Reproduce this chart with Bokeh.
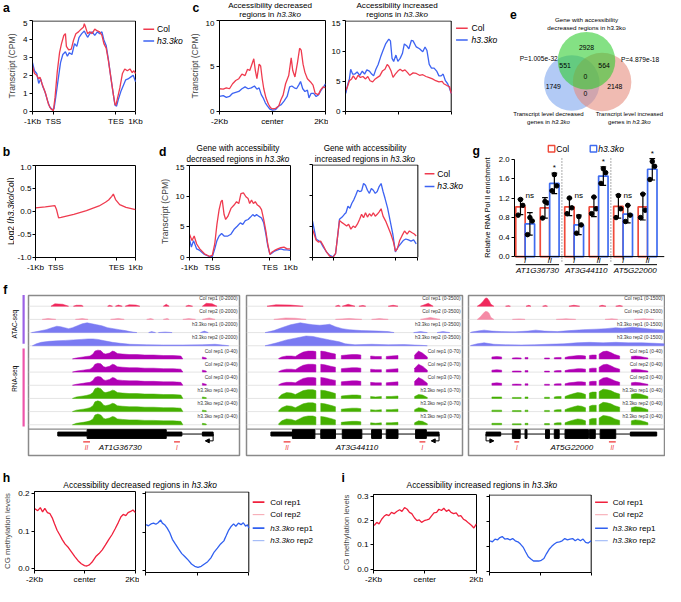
import math
from bokeh.plotting import figure
from bokeh.models import Range1d, FixedTicker, Arrow, NormalHead, NumeralTickFormatter
from bokeh.core.properties import value
from bokeh.layouts import row, column
from bokeh.embed import file_html
from bokeh.resources import INLINE

# ======================= DATA =======================
# a: metagene transcript level (CPM); x = profile bins
a_ticks = [0, 64, 256, 316]
a_ticklabels = ["-1Kb", "TSS", "TES", "1Kb"]
a_col_x = [0, 6, 13, 19, 23, 29, 36, 41, 49, 56, 64, 69, 76, 83, 89, 96, 101, 104, 111, 119, 126, 133, 141, 149, 156, 159, 163, 169, 176, 183, 191, 199, 206, 213, 219, 226, 233, 241, 248, 253, 256, 261, 268, 276, 283, 291, 299, 306, 311, 316]
a_col_y = [2.5, 2.1, 2.0, 1.8, 1.9, 1.55, 1.2, 0.95, 0.4, 0.15, 0.05, 0.75, 2.2, 3.25, 3.75, 4.2, 4.3, 3.6, 3.4, 3.45, 3.95, 4.3, 4.4, 4.55, 4.65, 4.85, 4.65, 4.3, 4.4, 4.3, 4.55, 4.45, 4.4, 4.2, 3.75, 3.5, 2.8, 1.8, 0.95, 0.4, 0.35, 0.75, 1.3, 2.1, 2.35, 2.25, 2.35, 2.15, 2.25, 2.1]
a_ko_x = [0, 6, 13, 19, 25, 31, 38, 46, 53, 61, 66, 71, 79, 86, 93, 101, 107, 113, 121, 129, 136, 143, 151, 159, 163, 169, 176, 183, 191, 199, 206, 213, 219, 226, 233, 241, 248, 253, 258, 263, 271, 279, 286, 293, 301, 309, 316]
a_ko_y = [2.7, 2.25, 2.1, 1.55, 1.8, 1.4, 1.1, 0.6, 0.25, 0.1, 0.15, 0.75, 1.8, 2.7, 3.15, 3.3, 3.05, 3.25, 3.15, 3.75, 3.6, 4.1, 4.3, 4.45, 4.3, 4.1, 4.3, 4.4, 4.2, 4.4, 4.3, 4.4, 3.95, 3.65, 2.85, 1.8, 0.95, 0.35, 0.3, 0.65, 1.1, 1.45, 1.75, 1.8, 1.9, 2.0, 1.65]

# b: log2 ratio profile
b_x = [0, 31, 61, 66, 73, 81, 121, 161, 201, 221, 231, 241, 246, 253, 266, 286, 316]
b_y = [0.08, 0.10, 0.13, 0.05, -0.14, -0.13, -0.06, 0.02, 0.12, 0.20, 0.25, 0.33, 0.38, 0.26, 0.15, 0.09, 0.04]

# c: transcript around accessibility-changed regions
c_ticklabels = ["-2Kb", "center", "2Kb"]
c1_col_x = [0, 12, 22, 32, 42, 52, 62, 72, 82, 90, 97, 104, 110, 115, 120, 127, 132, 137, 142, 149, 157, 164, 170, 180, 190, 197, 204, 212, 222, 230, 235, 242, 250, 257, 262, 268, 274, 282, 292, 300, 307, 317, 324, 332, 340]
c1_col_y = [2.5, 2.45, 2.6, 2.5, 3.05, 3.4, 3.6, 4.1, 3.95, 4.65, 4.5, 5.2, 5.8, 4.5, 3.6, 5.2, 5.0, 3.6, 2.5, 1.5, 0.8, 0.4, 0.3, 0.35, 0.6, 1.3, 1.8, 3.05, 3.95, 5.9, 4.5, 3.8, 5.35, 6.95, 6.75, 5.2, 4.3, 3.6, 3.25, 2.9, 2.0, 1.85, 2.35, 2.7, 2.6]
c1_ko_x = [0, 12, 22, 32, 42, 52, 62, 72, 82, 92, 102, 112, 120, 127, 134, 140, 147, 154, 162, 170, 180, 190, 198, 207, 217, 225, 232, 240, 247, 254, 260, 267, 274, 282, 287, 294, 302, 310, 318, 326, 334, 340]
c1_ko_y = [1.65, 1.75, 1.55, 1.65, 2.0, 2.1, 2.2, 2.5, 2.7, 2.5, 2.6, 2.8, 2.45, 2.6, 1.85, 1.5, 0.95, 0.6, 0.25, 0.15, 0.2, 0.6, 0.75, 1.15, 1.65, 2.7, 2.8, 2.6, 2.5, 2.9, 3.3, 2.5, 2.2, 2.35, 1.5, 2.0, 2.0, 1.65, 1.85, 2.35, 2.7, 3.05]
c2_ko_x = [1, 6, 12, 16, 22, 29, 36, 44, 52, 59, 66, 74, 81, 87, 94, 101, 109, 116, 124, 134, 139, 144, 149, 156, 162, 169, 176, 182, 189, 196, 204, 209, 219, 229, 239, 246, 252, 259, 266, 274, 282, 289, 296, 302, 309, 316, 322, 327]
c2_ko_y = [3.0, 4.3, 5.4, 7.0, 6.2, 6.2, 6.55, 6.0, 6.7, 6.2, 6.9, 6.7, 6.2, 5.9, 7.0, 7.8, 9.1, 10.1, 11.2, 12.0, 11.7, 8.8, 8.3, 9.35, 8.3, 8.8, 9.6, 11.2, 10.9, 10.4, 11.8, 11.7, 10.7, 10.4, 9.9, 10.7, 10.1, 7.8, 7.2, 7.2, 6.7, 5.9, 5.9, 6.2, 5.1, 4.6, 3.8, 3.0]
c2_col_x = [1, 6, 12, 19, 24, 32, 39, 46, 54, 62, 69, 76, 84, 92, 99, 106, 114, 122, 129, 134, 141, 147, 154, 162, 169, 176, 184, 192, 199, 209, 219, 229, 239, 249, 259, 269, 279, 289, 299, 304, 314, 322, 327]
c2_col_y = [3.5, 4.1, 5.1, 5.4, 5.9, 5.3, 6.0, 5.65, 5.8, 5.4, 5.8, 5.1, 4.9, 5.4, 5.65, 5.9, 6.7, 7.0, 7.8, 7.5, 6.7, 5.65, 6.2, 6.7, 7.0, 6.7, 6.9, 6.45, 6.0, 6.4, 6.3, 6.0, 6.1, 5.8, 5.6, 5.4, 5.1, 4.9, 5.0, 4.6, 4.3, 4.1, 3.0]

# d: transcript of genes with accessibility-changed regions
d1_col_x = [0, 8, 15, 23, 33, 48, 63, 73, 81, 88, 95, 101, 105, 111, 116, 123, 133, 143, 151, 158, 165, 173, 181, 188, 193, 199, 205, 211, 218, 225, 231, 238, 245, 251, 258, 265, 273, 283, 293, 303, 313, 323]
d1_col_y = [3.8, 2.75, 3.5, 2.2, 1.4, 0.6, 0.2, 0.35, 2.2, 5.4, 7.8, 9.1, 9.35, 7.0, 6.2, 6.7, 8.0, 8.55, 9.1, 8.8, 10.4, 10.55, 9.9, 9.6, 8.8, 9.35, 8.8, 9.1, 8.55, 8.3, 7.8, 6.2, 4.3, 2.2, 0.5, 0.9, 1.15, 1.4, 1.6, 1.7, 1.4, 1.4]
d1_ko_x = [0, 6, 13, 23, 33, 48, 63, 73, 81, 88, 95, 103, 111, 123, 133, 143, 153, 163, 171, 179, 188, 195, 203, 209, 215, 223, 231, 238, 245, 251, 258, 265, 273, 283, 293, 303, 313, 323]
d1_ko_y = [3.0, 1.7, 2.75, 1.4, 1.15, 0.5, 0.2, 0.1, 1.4, 2.75, 3.5, 3.9, 3.5, 3.5, 3.8, 4.6, 5.1, 5.65, 5.4, 6.0, 6.2, 6.55, 7.0, 6.7, 7.0, 6.7, 6.45, 5.65, 3.8, 1.95, 0.5, 0.75, 1.05, 1.25, 1.4, 1.25, 1.25, 1.15]
d2_ko_x = [0, 5, 11, 18, 25, 33, 43, 53, 63, 71, 78, 83, 91, 98, 103, 109, 115, 121, 127, 133, 139, 145, 151, 157, 163, 169, 175, 181, 187, 193, 199, 205, 211, 217, 223, 231, 239, 247, 255, 263, 271, 279, 287, 295, 303, 311, 319]
d2_ko_y = [5.9, 4.6, 3.0, 2.75, 2.5, 1.7, 0.9, 0.35, 0.1, 0.65, 3.8, 6.2, 6.55, 7.0, 7.25, 8.3, 8.0, 8.8, 9.35, 10.1, 10.9, 10.7, 10.8, 12.0, 11.7, 10.9, 10.4, 11.2, 10.9, 10.4, 10.7, 11.5, 12.0, 10.7, 9.6, 8.0, 5.9, 3.8, 0.9, 1.7, 2.2, 2.75, 3.0, 2.85, 2.65, 2.85, 2.2]
d2_col_x = [0, 5, 11, 18, 25, 33, 43, 53, 63, 71, 78, 83, 91, 98, 105, 111, 118, 125, 131, 138, 145, 151, 157, 163, 169, 175, 181, 187, 193, 199, 205, 211, 217, 225, 233, 241, 249, 255, 261, 268, 275, 283, 291, 298, 305, 313, 319]
d2_col_y = [4.6, 3.8, 2.85, 2.5, 2.65, 1.95, 0.9, 0.2, 0.0, 0.65, 3.8, 6.0, 5.65, 5.4, 5.1, 5.4, 4.6, 5.1, 4.85, 5.4, 6.2, 7.0, 6.45, 7.25, 6.55, 7.1, 6.7, 7.25, 6.7, 7.0, 7.4, 7.9, 6.7, 5.9, 4.85, 3.8, 2.5, 1.05, 1.4, 2.75, 3.5, 4.3, 3.8, 4.3, 4.05, 3.8, 3.5]

# e: Venn diagram
venn_titles = ["Gene with accessibility", "decreased regions in h3.3ko"]
venn_counts = [2928, 551, 564, 0, 1749, 2148, 0]
venn_pvalues = ["P=1.005e-32", "P=4.879e-18"]

# g: RNA Pol II ChIP-qPCR
g_genes = ["AT1G36730", "AT3G44110", "AT5G22000"]
g_primers = ["I", "II"]
g_col_mean = [1.02, 1.00, 1.02, 1.02, 1.03, 1.02]
g_col_sd = [0.16, 0.21, 0.18, 0.20, 0.24, 0.27]
g_ko_mean = [0.67, 1.50, 0.65, 1.65, 0.87, 1.79]
g_ko_sd = [0.23, 0.21, 0.20, 0.19, 0.18, 0.22]
g_col_pts = [[1.17, 1.05, 0.85], [1.13, 1.10, 0.79], [1.20, 1.00, 0.88], [1.22, 0.98, 0.88], [1.25, 0.98, 0.80], [1.28, 0.95, 0.80]]
g_ko_pts = [[0.80, 0.73, 0.45], [1.68, 1.45, 1.35], [0.82, 0.65, 0.48], [1.80, 1.72, 1.50], [1.05, 0.85, 0.72], [1.95, 1.85, 1.58]]
g_signif = ["ns", "*", "ns", "*", "ns", "*"]

# f: genome browser tracks (segments of (positions, signal heights))
f_atac_scale = ["0-2000", "0-3500", "0-1500"]
f_rna_scale = ["0-40", "0-70", "0-40"]
f1_atac_col1 = [([23, 27, 35, 41], [0, 2.5, 2, 0]), ([46, 49, 54, 56], [0, 1, 1, 0]), ([81, 83, 86], [0, 1, 0]), ([89, 92, 96], [0, 1.2, 0]), ([99, 103, 110, 114], [0, 1.5, 1.2, 0]), ([138, 141, 144], [0, 2, 0]), ([161, 164, 168], [0, 1, 0]), ([178, 182, 188, 193], [0, 3, 2.5, 0])]
f1_atac_col2 = [([14, 20, 28], [0, 1, 0]), ([48, 55, 61], [0, 0.8, 0]), ([84, 92, 98], [0, 1, 0]), ([121, 125, 128], [0, 0.8, 0]), ([138, 142, 144], [0, 1, 0]), ([158, 164, 171], [0, 0.8, 0]), ([178, 185, 191], [0, 1.5, 0])]
f1_atac_ko1 = [([3, 11, 18, 24, 29, 33, 37, 41, 45, 50, 55, 60, 65, 70, 75, 81, 87, 93, 99, 104, 107, 111], [0, 1.5, 3, 5, 6.5, 6, 5, 4, 5, 7, 9, 10, 9, 8, 7, 5, 4, 3, 2, 1, 0.5, 0]), ([123, 126, 130], [0, 1, 0]), ([133, 140, 147], [0, 0.6, 0]), ([176, 180, 184], [0, 1.5, 0])]
f1_atac_ko2 = [([4, 8, 13, 21, 29, 38, 46, 54, 61, 66, 71, 78, 86, 94, 104, 121, 138, 158, 178, 191, 201, 205], [0, 2, 3.5, 4.5, 5, 5.5, 6, 6.5, 7, 7, 6.5, 5, 3.5, 2.5, 1.5, 1, 0.8, 0.8, 1, 1.5, 0.5, 0])]
f1_rna_col = [([45, 49, 56, 59, 63, 66, 68, 71, 74, 77, 79, 83, 86, 88, 91, 96, 103, 111, 119, 128, 138, 148, 156, 158], [0, 1, 2, 2.5, 3, 5, 8, 9, 8.5, 5.5, 5, 6, 8, 7.5, 5.5, 5, 4.5, 4.5, 4, 4, 3.5, 3.5, 3, 0]), ([178, 180, 182], [2, 1.5, 1])]
f1_rna_ko = [([45, 49, 56, 59, 63, 66, 68, 71, 74, 77, 79, 83, 86, 88, 91, 96, 103, 111, 119, 128, 138, 148, 156, 158], [0, 1.5, 2.5, 3, 4, 6, 10, 11, 10, 6.5, 6, 7, 8.5, 8, 6, 5.5, 5, 5, 4.5, 4.5, 4, 4, 3.5, 0]), ([178, 180, 182], [1.5, 1.2, 0.8])]
f2_atac_col1 = [([21, 30, 45, 58], [0, 1.5, 1.2, 0]), ([91, 94, 96], [0, 1, 0]), ([98, 104, 111], [0, 2, 0]), ([115, 119, 122], [0, 0.8, 0]), ([145, 150, 155], [0, 1, 0]), ([178, 186, 191], [0, 3, 0])]
f2_atac_col2 = [([28, 40, 50, 61], [0, 1.5, 1.2, 0]), ([91, 105, 118], [0, 1, 0]), ([128, 136, 145], [0, 0.8, 0]), ([178, 188, 198], [0, 2, 0])]
f2_atac_ko1 = [([19, 28, 36, 45, 55, 61, 68, 75, 81, 85, 91, 98, 105, 118, 135, 145, 151], [0, 2, 5, 8, 10, 9, 8, 7.5, 8, 8.5, 6, 4, 3, 2, 1.5, 1, 0]), ([171, 178, 185], [0, 1, 0]), ([195, 201, 208], [0, 1, 0])]
f2_atac_ko2 = [([19, 31, 41, 51, 61, 68, 75, 85, 95, 101, 111, 128, 145, 161, 178, 185], [0, 3, 6, 8, 10, 9.5, 8, 6, 4, 2, 1, 1.5, 1, 1.2, 0.5, 0])]
f2_rna_col = [([33, 36, 41, 46, 50, 54, 58, 63, 68, 71], [0.5, 2, 3, 3, 2.5, 5, 7, 8, 8, 7.5]), ([76, 80, 86, 91], [8, 7.5, 6, 5]), ([97, 102, 108, 113, 117], [3.5, 4, 4.5, 4.5, 4]), ([127, 132, 138], [3, 2.5, 2.5]), ([143, 148, 155], [2.5, 3, 3.5]), ([172, 176, 180, 185], [4, 8, 6, 2])]
f2_rna_ko = [([33, 36, 41, 46, 50, 54, 58, 63, 68, 71], [1, 4, 6, 5.5, 4, 6, 8, 9, 9, 8]), ([76, 80, 86, 91], [8.5, 8, 6.5, 5]), ([97, 102, 108, 113, 117], [2.5, 3, 3.5, 3.5, 3]), ([127, 132, 138], [2, 1.5, 2]), ([143, 148, 155], [2, 2, 2.5]), ([172, 176, 180, 185], [2, 4, 3.5, 1])]
f3_atac_col1 = [([9, 12, 15, 17, 19, 21, 23, 26], [0, 2, 5, 8, 8.5, 6, 2, 0]), ([38, 41, 43], [0, 0.6, 0]), ([59, 62, 64], [0, 1, 0]), ([76, 79, 81], [0, 0.8, 0]), ([103, 108, 114], [0, 1, 0]), ([134, 137, 141], [0, 1, 0]), ([151, 155, 158], [0, 0.8, 0])]
f3_atac_col2 = [([9, 12, 15, 17, 19, 21, 23, 26], [0, 2.5, 6, 8, 8, 6.5, 2, 0]), ([45, 52, 58], [0, 0.5, 0]), ([90, 100, 110], [0, 0.6, 0]), ([140, 147, 153], [0, 0.6, 0]), ([170, 180, 190], [0, 0.6, 0])]
f3_atac_ko1 = [([2, 3, 9, 16, 24, 34, 48, 61, 69, 78, 91, 104, 118, 131, 141, 151, 158, 168, 178, 188, 198, 201], [0, 0.5, 1.5, 2.5, 1.5, 1, 0.8, 1.5, 2.5, 1.5, 1, 2, 3, 3.5, 4, 5, 4.5, 5.5, 4.5, 3.5, 3, 2.5])]
f3_atac_ko2 = [([2, 3, 9, 16, 26, 38, 54, 68, 81, 98, 111, 124, 138, 151, 164, 178, 191, 201], [0, 0.5, 2, 3, 1.5, 1, 0.8, 1, 1.5, 2, 3, 3.5, 3, 3.5, 3, 3, 2.5, 2])]
f3_rna_col = [([24, 29, 34], [2, 2.5, 2]), ([45, 49, 54], [1, 1.2, 1]), ([58, 61], [1.5, 1.5]), ([78, 83], [1, 1]), ([88, 91, 95], [1.2, 1.5, 1.5]), ([99, 103, 108, 112, 116, 120], [1.5, 2.5, 3, 3.5, 3.5, 3]), ([124, 127, 131], [3.5, 4, 4]), ([134, 138, 142, 146, 150, 155], [5, 7.5, 8, 6.5, 4.5, 3]), ([167, 171, 176, 181, 184], [2.5, 3, 2.5, 1.5, 1])]
f3_rna_ko = [([24, 29, 34], [1.5, 1.5, 1.5]), ([45, 49, 54], [1, 1, 1]), ([58, 61], [1.5, 1.5]), ([78, 83], [1.2, 1.2]), ([88, 91, 95], [1.5, 2, 2]), ([99, 103, 108, 112, 116, 120], [2, 3.5, 5, 6, 5.5, 4]), ([124, 127, 131], [5.5, 6.5, 6.5]), ([134, 138, 142, 146, 150, 155], [7, 9.5, 9, 8, 6, 4.5]), ([167, 171, 176, 181, 184], [4, 5, 4.5, 3, 2])]
f1_gene = dict(line=(30, 189), thin=[(30, 60), (141, 157), (178, 189)], thick=[(60, 141)], tss=189, strand=-1, primers=[(56, 63, "II"), (149, 155, "I")], name="AT1G36730", name_x=94)
f2_gene = dict(line=(25, 197), thin=[(25, 47), (184, 197)], thick=[(47, 70), (76, 91), (98, 118), (128, 138), (143, 155), (173, 184)], tss=197, strand=-1, primers=[(38, 45, "II"), (177, 183, "I")], name="AT3G44110", name_x=113)
f3_gene = dict(line=(18, 193), thin=[(18, 33), (166, 193)], thick=[(45, 53), (58, 60), (79, 83), (88, 93), (99, 123), (124, 130), (135, 151)], tss=18, strand=1, primers=[(47, 52, "I"), (144, 151, "II")], name="AT5G22000", name_x=106)

# h / i: CG methylation profiles
h_ticklabels = ["-2Kb", "center", "2Kb"]
h_col_x = [0, 10, 18, 25, 32, 40, 48, 55, 62, 70, 78, 86, 95, 105, 115, 125, 135, 145, 155, 162, 170, 180, 190, 200, 210, 220, 230, 240, 250, 260, 268, 275, 283, 290, 298, 305, 313]
h_col_y = [0.160, 0.154, 0.162, 0.151, 0.160, 0.149, 0.146, 0.135, 0.119, 0.102, 0.090, 0.077, 0.065, 0.056, 0.044, 0.032, 0.021, 0.013, 0.008, 0.007, 0.010, 0.019, 0.032, 0.040, 0.050, 0.063, 0.077, 0.090, 0.106, 0.123, 0.138, 0.144, 0.141, 0.149, 0.152, 0.156, 0.149]
h_ko_x = [2, 9, 17, 25, 32, 39, 47, 52, 59, 67, 75, 83, 92, 102, 112, 122, 132, 142, 152, 162, 172, 182, 192, 202, 212, 222, 232, 242, 249, 257, 265, 272, 279, 287, 295, 302, 309, 315, 319]
h_ko_y = [0.119, 0.116, 0.121, 0.123, 0.120, 0.124, 0.131, 0.123, 0.119, 0.110, 0.098, 0.081, 0.069, 0.056, 0.044, 0.036, 0.027, 0.017, 0.011, 0.008, 0.011, 0.017, 0.023, 0.033, 0.048, 0.058, 0.069, 0.077, 0.090, 0.105, 0.115, 0.121, 0.115, 0.123, 0.119, 0.124, 0.115, 0.119, 0.110]
i_col_x = [2, 10, 17, 25, 33, 40, 47, 55, 63, 71, 80, 87, 95, 103, 110, 117, 125, 133, 140, 147, 155, 163, 170, 177, 185, 193, 200, 208, 215, 223, 230, 237, 245, 253, 260, 267, 275, 283, 291, 300, 307, 315]
i_col_y = [0.180, 0.193, 0.187, 0.206, 0.219, 0.225, 0.221, 0.234, 0.229, 0.238, 0.245, 0.238, 0.254, 0.247, 0.234, 0.229, 0.212, 0.200, 0.203, 0.193, 0.200, 0.203, 0.206, 0.219, 0.232, 0.234, 0.247, 0.242, 0.251, 0.238, 0.245, 0.234, 0.229, 0.232, 0.219, 0.221, 0.206, 0.200, 0.190, 0.180, 0.170, 0.187]
i_ko_x = [2, 9, 17, 25, 32, 39, 47, 55, 63, 71, 79, 87, 95, 103, 111, 119, 127, 135, 143, 151, 159, 167, 175, 183, 191, 199, 207, 215, 223, 231, 239, 247, 255, 263, 271, 279, 287, 295, 303, 312]
i_ko_y = [0.122, 0.118, 0.129, 0.126, 0.135, 0.139, 0.129, 0.131, 0.126, 0.131, 0.122, 0.118, 0.109, 0.097, 0.077, 0.058, 0.049, 0.041, 0.041, 0.041, 0.044, 0.051, 0.071, 0.088, 0.100, 0.109, 0.116, 0.118, 0.122, 0.131, 0.126, 0.129, 0.131, 0.122, 0.129, 0.122, 0.129, 0.116, 0.113, 0.122]

# ======================= STYLE / LAYOUT HELPERS =======================
SX = 665.0 / 681.0
SY = 586.0 / 602.0
SF = 0.975
FONT = "Liberation Sans"
RED = "#ef3b4f"
BLUE = "#3d63f2"
GRED = "#ef4a3a"
GBLUE = "#3f6cf0"

CW = {' ': 278, '(': 333, ')': 333, ',': 278, '-': 333, '.': 278, '/': 278, '=': 584}
for ch in "0123456789":
    CW[ch] = 556
CW.update({'A': 667, 'B': 667, 'C': 722, 'D': 722, 'E': 667, 'F': 611, 'G': 778, 'H': 722, 'I': 278, 'J': 500, 'K': 667, 'L': 556, 'M': 833, 'N': 722, 'O': 778, 'P': 667, 'Q': 778, 'R': 722, 'S': 667, 'T': 611, 'U': 722, 'V': 667, 'W': 944, 'X': 667, 'Y': 667, 'Z': 611,
           'a': 556, 'b': 556, 'c': 500, 'd': 556, 'e': 556, 'f': 278, 'g': 556, 'h': 556, 'i': 222, 'j': 222, 'k': 500, 'l': 222, 'm': 833, 'n': 556, 'o': 556, 'p': 556, 'q': 556, 'r': 333, 's': 500, 't': 278, 'u': 556, 'v': 500, 'w': 722, 'x': 500, 'y': 500, 'z': 500})


def tw(s, size):
    return sum(CW.get(ch, 556) for ch in s) * size / 1000.0


def fs(size):
    return f"{size * SF:.2f}px"


class Panel:
    """fig: figure extent, frame: plot frame, box: reference box whose edges map to data (in reference px)."""
    def __init__(self, fig, frame, box=None, data=None, xaxis=False, yaxis=False, outline=None):
        x0, x1, y0, y1 = fig
        fl, fr, ft, fb = frame
        bl, br, bt, bb = box if box else frame
        dx0, dx1, dy0, dy1 = data if data else (bl, br, bb, bt)
        self.kx = (dx1 - dx0) / (br - bl)
        self.ky = (dy1 - dy0) / (bb - bt)
        self.bl, self.bb, self.dx0, self.dy0, self.dx1, self.dy1 = bl, bb, dx0, dy0, dx1, dy1
        xr = Range1d(dx0 + (fl - bl) * self.kx, dx0 + (fr - bl) * self.kx)
        yr = Range1d(dy0 - (fb - bb) * self.ky, dy0 + (bb - ft) * self.ky)
        kw = {}
        if not xaxis:
            kw["x_axis_type"] = None
        if not yaxis:
            kw["y_axis_type"] = None
        p = figure(width=round(x1 * SX) - round(x0 * SX), height=round(y1 * SY) - round(y0 * SY),
                   x_range=xr, y_range=yr, output_backend="svg", toolbar_location=None, title=None,
                   min_border_left=round(fl * SX) - round(x0 * SX), min_border_right=round(x1 * SX) - round(fr * SX),
                   min_border_top=round(ft * SY) - round(y0 * SY), min_border_bottom=round(y1 * SY) - round(fb * SY), **kw)
        try:
            p.frame_align = False
        except Exception:
            pass
        for g in p.grid:
            g.visible = False
        p.outline_line_color = outline
        p.outline_line_width = 1
        self.p = p

    def d(self, rx, ry):
        return self.dx0 + (rx - self.bl) * self.kx, self.dy0 + (self.bb - ry) * self.ky


def T(P, rx, ry, s, size=8.5, align="center", style="normal", color="black", angle=0.0):
    x, y = P.d(rx, ry)
    P.p.text(x=[x], y=[y], text=[s], text_font=value(FONT), text_font_size=fs(size), text_font_style=style,
             text_align=align, text_baseline="middle", text_color=color, angle=angle)


def MT(P, rx, ry, parts, size, align="center", vertical=False):
    total = sum(tw(t, size) for t, _ in parts)
    if vertical:
        pos = ry + total / 2
    else:
        pos = rx - total / 2 if align == "center" else rx
    for t, st in parts:
        lead = len(t) - len(t.lstrip())
        trail = len(t) - len(t.rstrip())
        core = t.strip()
        if vertical:
            pos -= tw(" " * lead, size)
            T(P, rx, pos, core, size, align="left", style=st, angle=math.pi / 2)
            pos -= tw(core, size) + tw(" " * trail, size)
        else:
            pos += tw(" " * lead, size)
            T(P, pos, ry, core, size, align="left", style=st)
            pos += tw(core, size) + tw(" " * trail, size)


def L(P, rx0, rx1, ry, color, w=1.5):
    x0, y = P.d(rx0, ry)
    x1, _ = P.d(rx1, ry)
    P.p.segment(x0=[x0], y0=[y], x1=[x1], y1=[y], line_color=color, line_width=w)


def edges(P, rl, rr, rt, rb):
    xl, yt = P.d(rl, rt)
    xr, yb = P.d(rr, rb)
    P.p.segment(x0=[xl, xr], y0=[yt, yb], x1=[xr, xr], y1=[yt, yt], line_color="black", line_width=1)


def style_axis(ax, tick_size=8.3, label_size=8.8):
    ax.major_tick_out = 3
    ax.major_tick_in = 0
    ax.minor_tick_line_color = None
    ax.axis_line_color = "black"
    ax.major_tick_line_color = "black"
    ax.major_label_text_font = FONT
    ax.major_label_text_font_size = fs(tick_size)
    ax.major_label_text_color = "black"
    ax.major_label_standoff = 2
    ax.axis_label_text_font = FONT
    ax.axis_label_text_font_style = "normal"
    ax.axis_label_text_font_size = fs(label_size)
    ax.axis_label_standoff = 3


def hide_labels(ax):
    ax.major_label_text_font_size = "1px"
    ax.major_label_text_color = None
    ax.major_label_standoff = 0


def style(P, xt, xl, yt, yl=True, yfmt=None, ylabel=None, label_size=8.8, xbounds=False):
    xa, ya = P.p.xaxis[0], P.p.yaxis[0]
    style_axis(xa)
    style_axis(ya, label_size=label_size)
    xa.ticker = FixedTicker(ticks=xt)
    if xl:
        xa.major_label_overrides = {t: s for t, s in zip(xt, xl)}
    else:
        hide_labels(xa)
    ya.ticker = FixedTicker(ticks=yt)
    if not yl:
        hide_labels(ya)
    if yfmt:
        ya.formatter = NumeralTickFormatter(format=yfmt)
    if ylabel:
        ya.axis_label = ylabel
    if xbounds:
        xa.bounds = (P.dx0, P.dx1)


def letter(P, rx, ry, s):
    T(P, rx, ry, s, 12.5, style="bold")


def two_legend(P, x0, x1, xt, y1, y2):
    L(P, x0, x1, y1, RED)
    T(P, xt, y1, "Col", 8.8, align="left")
    L(P, x0, x1, y2, BLUE)
    T(P, xt, y2, "h3.3ko", 8.8, align="left", style="italic")


def rep_legend(P, x0, x1, xt, ys):
    cols = ["#f0203c", "#f6a3ae", "#3060f0", "#94b0f6"]
    widths = [1.6, 1.0, 1.6, 1.0]
    for y, c, w in zip(ys, cols, widths):
        L(P, x0, x1, y, c, w)
    T(P, xt, ys[0], "Col rep1", 8.3, align="left")
    T(P, xt, ys[1], "Col rep2", 8.3, align="left")
    MT(P, xt, ys[2], [("h3.3ko", "italic"), (" rep1", "normal")], 8.3, align="left")
    MT(P, xt, ys[3], [("h3.3ko", "italic"), (" rep2", "normal")], 8.3, align="left")


# ======================= ROW 1 =======================
T1 = Panel((0, 518, 0, 21), (0, 518, 0, 21))
letter(T1, 6, 8, "a")
letter(T1, 200, 8, "c")
T(T1, 276, 5.2, "Accessibility decreased", 8.3)
MT(T1, 276, 15, [("regions in ", "normal"), ("h3.3ko", "italic")], 8.3)
T(T1, 406, 5.2, "Accessibility increased", 8.3)
MT(T1, 406, 15, [("regions in ", "normal"), ("h3.3ko", "italic")], 8.3)

A = Panel((0, 190, 21, 137), (33, 190, 21, 114), (33, 138, 21.5, 114), (0, 316, 0, 5), xaxis=True, yaxis=True)
style(A, a_ticks, a_ticklabels, [0, 1, 2, 3, 4, 5], ylabel="Transcript (CPM)", xbounds=True)
A.p.yaxis[0].bounds = (0, 5)
edges(A, 33, 138, 21.5, 114)
A.p.line(a_ko_x, a_ko_y, color=BLUE, line_width=1.3)
A.p.line(a_col_x, a_col_y, color=RED, line_width=1.3)
two_legend(A, 146, 157, 160, 30, 42)

C1 = Panel((190, 336, 21, 137), (219, 333, 21, 114), None, (0, 340, 0, 10), xaxis=True, yaxis=True, outline="black")
style(C1, [0, 170, 340], c_ticklabels, [0, 5, 10], ylabel="Transcript (CPM)")
C1.p.line(c1_ko_x, c1_ko_y, color=BLUE, line_width=1.3)
C1.p.line(c1_col_x, c1_col_y, color=RED, line_width=1.3)

C2 = Panel((336, 518, 21, 137), (352, 518, 21, 114), (352, 461, 21.5, 114), (0, 327, 0, 15), xaxis=True, yaxis=True)
style(C2, [0, 163, 327], None, [0, 5, 10, 15], xbounds=True)
C2.p.yaxis[0].bounds = (0, 15)
edges(C2, 352, 461, 21.5, 114)
C2.p.line(c2_ko_x, c2_ko_y, color=BLUE, line_width=1.3)
C2.p.line(c2_col_x, c2_col_y, color=RED, line_width=1.3)
two_legend(C2, 466, 478, 482, 29, 41)

E = Panel((518, 681, 0, 137), (518, 681, 0, 137))
cx = [E.d(585, 0)[0], E.d(616, 0)[0], E.d(600, 0)[0]]
cy = [E.d(0, 85)[1], E.d(0, 84)[1], E.d(0, 62)[1]]
E.p.circle(x=cx, y=cy, radius=[28.5, 30, 29.5], fill_color=["#7ba3ee", "#e6897b", "#2bcb2b"], fill_alpha=0.58, line_color=None)
letter(E, 525, 14, "e")
T(E, 600, 20, venn_titles[0], 6.4)
T(E, 600, 28, venn_titles[1], 6.4)
venn_pos = [(600, 48), (578, 67), (618, 67), (599, 78), (566, 89), (629, 89), (599, 96)]
for (vx, vy), n in zip(venn_pos, venn_counts):
    T(E, vx, vy, str(n), 7)
T(E, 551, 60, venn_pvalues[0], 6.8)
T(E, 655, 61, venn_pvalues[1], 6.8)
T(E, 561, 117, "Transcript level decreased", 6.2)
MT(E, 561, 125, [("genes in ", "normal"), ("h3.3ko", "italic")], 6.2)
T(E, 644, 117, "Transcript level increased", 6.1)
MT(E, 644, 125, [("genes in ", "normal"), ("h3.3ko", "italic")], 6.2)

# ======================= ROW 2 =======================
T2 = Panel((0, 482, 137, 168), (0, 482, 137, 168))
letter(T2, 6, 155, "b")
letter(T2, 166, 155, "d")
T(T2, 243, 152, "Gene with accessibility", 8.4)
MT(T2, 243, 163, [("decreased regions in ", "normal"), ("h3.3ko", "italic")], 8.4)
T(T2, 373, 152, "Gene with accessibility", 8.4)
MT(T2, 373, 163, [("increased regions in ", "normal"), ("h3.3ko", "italic")], 8.4)

BL = Panel((0, 14, 168, 285), (0, 14, 168, 285))
MT(BL, 10, 216.5, [("Log2 (", "normal"), ("h3.3ko", "italic"), ("/Col)", "normal")], 8.8, vertical=True)

B = Panel((14, 160, 168, 285), (33, 138, 169, 264), None, (0, 316, -1, 1), xaxis=True, yaxis=True, outline="black")
style(B, a_ticks, a_ticklabels, [-1, -0.5, 0, 0.5, 1], yfmt="0.0")
B.p.yaxis[0].major_label_standoff = 1
B.p.line(b_x, b_y, color=RED, line_width=1.3)

D1 = Panel((160, 306, 168, 285), (189, 297, 169, 264), None, (0, 324, 0, 15), xaxis=True, yaxis=True, outline="black")
style(D1, [0, 73, 258, 324], a_ticklabels, [0, 5, 10, 15], ylabel="Transcript (CPM)")
D1.p.line(d1_ko_x, d1_ko_y, color=BLUE, line_width=1.3)
D1.p.line(d1_col_x, d1_col_y, color=RED, line_width=1.3)

D2 = Panel((306, 482, 168, 285), (319, 482, 168.5, 264), (319, 427, 169, 264), (0, 324, 0, 15), xaxis=True, yaxis=True)
style(D2, [0, 65, 255, 324], None, [0, 5, 10, 15], yl=False, xbounds=True)
D2.p.yaxis[0].bounds = (0, 15)
edges(D2, 319, 427, 169, 264)
D2.p.line(d2_ko_x, d2_ko_y, color=BLUE, line_width=1.3)
D2.p.line(d2_col_x, d2_col_y, color=RED, line_width=1.3)
two_legend(D2, 434, 444, 447, 178, 191)

GL = Panel((482, 506, 137, 285), (482, 506, 137, 285))
letter(GL, 487, 155, "g")
T(GL, 499, 213, "Relative RNA Pol II enrichment", 7.5, angle=math.pi / 2)

G = Panel((506, 681, 137, 285), (526, 680, 140, 282), (527.3, 672.3, 163, 262.7), (0, 15, 0, 2.0), yaxis=True)
gp = G.p
gya = gp.yaxis[0]
style_axis(gya, tick_size=8.0)
gya.bounds = (0, 2.0)
gya.ticker = FixedTicker(ticks=[0, 0.4, 0.8, 1.2, 1.6, 2.0])
gya.formatter = NumeralTickFormatter(format="0.0")
GEN_OFF, PR_OFF = 5.2, 2.6
cen_col, cen_ko, pair_c = [], [], []
for gi in range(len(g_genes)):
    for pi in range(len(g_primers)):
        base = gi * GEN_OFF + pi * PR_OFF
        cen_col.append(base + 0.5)
        cen_ko.append(base + 1.5)
        pair_c.append(base + 1.0)
for cs, m, sd, pts, col in ((cen_col, g_col_mean, g_col_sd, g_col_pts, GRED), (cen_ko, g_ko_mean, g_ko_sd, g_ko_pts, GBLUE)):
    gp.quad(left=[c - 0.5 for c in cs], right=[c + 0.5 for c in cs], bottom=0, top=m,
            fill_color="white", line_color=col, line_width=1.7)
    hi = [a + b for a, b in zip(m, sd)]
    lo = [a - b for a, b in zip(m, sd)]
    gp.segment(x0=cs, x1=cs, y0=lo, y1=hi, line_color="black", line_width=1.2)
    gp.segment(x0=[c - 0.3 for c in cs], x1=[c + 0.3 for c in cs], y0=hi, y1=hi, line_color="black", line_width=1.2)
    gp.segment(x0=[c - 0.3 for c in cs], x1=[c + 0.3 for c in cs], y0=lo, y1=lo, line_color="black", line_width=1.2)
    dx, dy = [], []
    for c, vals in zip(cs, pts):
        for o, v in zip([0.0, 0.25, -0.25], vals):
            dx.append(c + o)
            dy.append(v)
    gp.scatter(dx, dy, size=4.5, color="black")
sig_x, sig_y = [], []
for i, s in enumerate(g_signif):
    sig_x.append(cen_ko[i])
    sig_y.append(1.25 if s == "ns" else g_ko_mean[i] + g_ko_sd[i] + 0.11)
gp.text(x=sig_x, y=sig_y, text=g_signif, text_font=value(FONT), text_font_size=fs(8.3), text_align="center", text_baseline="middle")
xl_, _ = G.d(526, 0)
xr_, _ = G.d(680, 0)
gp.segment(x0=[xl_], x1=[xr_], y0=[0], y1=[0], line_color="black", line_width=1)
gp.segment(x0=pair_c, x1=pair_c, y0=0, y1=-0.06, line_color="black", line_width=1)
gp.text(x=pair_c, y=[-0.09] * len(pair_c), text=g_primers * len(g_genes), text_font=value(FONT), text_font_style="italic",
        text_font_size=fs(8), text_align="center", text_baseline="middle")
gstarts = [gi * GEN_OFF for gi in range(len(g_genes))]
gp.segment(x0=gstarts, x1=[s + 4.6 for s in gstarts], y0=-0.165, y1=-0.165, line_color="black", line_width=1)
gp.text(x=[s + 2.3 for s in gstarts], y=[-0.28] * 3, text=g_genes, text_font=value(FONT), text_font_style="italic",
        text_font_size=fs(8.3), text_align="center", text_baseline="middle")
gp.segment(x0=[4.9, 10.1], x1=[4.9, 10.1], y0=-0.1, y1=2.05, line_color="#444444", line_width=0.9, line_dash="1 2")
gp.scatter([3.8, 8.25], [2.21, 2.21], marker="square", size=6.5, fill_color="white", line_color=[GRED, GBLUE], line_width=1.4)
gp.text(x=[4.3], y=[2.21], text=["Col"], text_font=value(FONT), text_font_size=fs(8.8), text_align="left", text_baseline="middle")
gp.text(x=[8.75], y=[2.21], text=["h3.3ko"], text_font=value(FONT), text_font_style="italic", text_font_size=fs(8.8), text_align="left", text_baseline="middle")

# ======================= ROW 3 (f) =======================
FS = Panel((0, 27, 285, 475), (0, 27, 285, 475))
FS.p.segment(x0=[24, 24], x1=[24, 24], y0=[303, 358], y1=[353, 438], line_color=["#9b62e6", "#ee55aa"], line_width=2.2)
letter(FS, 5, 298, "f")
T(FS, 15, 333, "ATAC-seq", 6.6, angle=math.pi / 2)
T(FS, 15, 389, "RNA-seq", 6.6, angle=math.pi / 2)

TRACK_COLORS = ["#f0285c", "#f58aa6", "#7a7af2", "#7a7af2", "#b000b4", "#b000b4", "#b000b4", "#45b000", "#45b000", "#45b000"]


def draw_box(x0, x1, fl, fr, width, atac, rna_col, rna_ko, atac_scale, rna_scale, gene):
    P = Panel((x0, x1, 285, 475), (fl, fr, 303, 467), None, (0, width, 164, 0), outline="#8a8a8a")
    p = P.p
    p.outline_line_width = 1.5
    tracks = atac + [rna_col] * 3 + [rna_ko] * 3
    names = ["Col rep1 (%s)" % atac_scale, "Col rep2 (%s)" % atac_scale, "h3.3ko rep1 (%s)" % atac_scale, "h3.3ko rep2 (%s)" % atac_scale]
    names += ["Col rep%d (%s)" % (k, rna_scale) for k in (1, 2, 3)]
    names += ["h3.3ko rep%d (%s)" % (k, rna_scale) for k in (1, 2, 3)]
    bases = [11 + 13.5 * i for i in range(10)]
    p.segment(x0=[0] * 10, x1=[width] * 10, y0=bases, y1=bases, line_color="#dddddd", line_width=0.8)
    for i, segs in enumerate(tracks):
        xs = [list(sx) + [sx[-1], sx[0]] for sx, sh in segs]
        ys = [[bases[i] - h for h in sh] + [bases[i], bases[i]] for sx, sh in segs]
        p.patches(xs, ys, fill_color=TRACK_COLORS[i], line_color=TRACK_COLORS[i], line_width=0.5)
    p.text(x=[width - 2] * 10, y=[b - 8 for b in bases], text=names, text_font=value(FONT), text_font_size=fs(5),
           text_align="right", text_baseline="middle", text_color="#333333")
    p.segment(x0=[0], x1=[width], y0=[137], y1=[137], line_color="#8a8a8a", line_width=1.2)
    gy = 142
    p.segment(x0=[gene["line"][0]], x1=[gene["line"][1]], y0=[gy], y1=[gy], line_color="black", line_width=1)
    p.quad(left=[a for a, b in gene["thin"]], right=[b for a, b in gene["thin"]], top=gy - 2, bottom=gy + 2, color="black")
    p.quad(left=[a for a, b in gene["thick"]], right=[b for a, b in gene["thick"]], top=gy - 4.5, bottom=gy + 4.5, color="black")
    t = gene["tss"]
    p.segment(x0=[t], x1=[t], y0=[gy], y1=[gy + 7], line_color="black", line_width=1)
    p.add_layout(Arrow(end=NormalHead(size=4, fill_color="black", line_color="black"), x_start=t, y_start=gy + 7,
                       x_end=t + 8 * gene["strand"], y_end=gy + 7, line_color="black", line_width=1))
    pr = gene["primers"]
    p.segment(x0=[a for a, b, l in pr], x1=[b for a, b, l in pr], y0=150, y1=150, line_color="#ee3333", line_width=1.3)
    p.text(x=[(a + b) / 2 for a, b, l in pr], y=[155.5] * len(pr), text=[l for a, b, l in pr], text_font=value(FONT),
           text_font_style="italic", text_font_size=fs(6.5), text_color="#ee3333", text_align="center", text_baseline="middle")
    p.text(x=[gene["name_x"]], y=[156], text=[gene["name"]], text_font=value(FONT), text_font_style="italic",
           text_font_size=fs(8.3), text_align="center", text_baseline="middle")
    return P


F1 = draw_box(27, 248, 29, 245, 216, [f1_atac_col1, f1_atac_col2, f1_atac_ko1, f1_atac_ko2], f1_rna_col, f1_rna_ko, f_atac_scale[0], f_rna_scale[0], f1_gene)
F2 = draw_box(248, 476, 252, 473, 221, [f2_atac_col1, f2_atac_col2, f2_atac_ko1, f2_atac_ko2], f2_rna_col, f2_rna_ko, f_atac_scale[1], f_rna_scale[1], f2_gene)
F3 = draw_box(476, 681, 479, 680, 201, [f3_atac_col1, f3_atac_col2, f3_atac_ko1, f3_atac_ko2], f3_rna_col, f3_rna_ko, f_atac_scale[2], f_rna_scale[2], f3_gene)

# ======================= ROW 4 (h, i) =======================
HD = Panel((0, 681, 475, 503), (0, 681, 475, 503))
letter(HD, 6, 490, "h")
MT(HD, 143, 497, [("Accessibility decreased regions in ", "normal"), ("h3.3ko", "italic")], 8.6)
letter(HD, 351, 490, "i")
MT(HD, 493, 497, [("Accessibility increased regions in ", "normal"), ("h3.3ko", "italic")], 8.6)

H1 = Panel((0, 142, 503, 602), (33, 138, 504, 588), (33, 138, 506, 586), (0, 313, 0, 0.2), xaxis=True, yaxis=True, outline="black")
style(H1, [0, 156, 313], h_ticklabels, [0, 0.1, 0.2], yfmt="0.0", ylabel="CG methylation levels", label_size=8.0)
H1.p.xaxis[0].major_label_standoff = 1
H1.p.line(h_col_x, h_col_y, color="#f0203c", line_width=1.3)

H2 = Panel((142, 345, 503, 602), (148, 345, 504, 588), (148, 254, 506, 586), (0, 319, 0, 0.2), xaxis=True, yaxis=True)
style(H2, [0, 160, 319], None, [0, 0.1, 0.2], yl=False, xbounds=True)
edges(H2, 148, 254, 504.5, 588)
H2.p.line(h_ko_x, h_ko_y, color="#3060f0", line_width=1.3)
rep_legend(H2, 258, 270, 276, [515, 528, 542, 555])

I1 = Panel((345, 495, 503, 602), (382, 487, 507, 588), (382, 487, 509, 586.7), (0, 315, 0, 0.3), xaxis=True, yaxis=True, outline="black")
style(I1, [0, 157, 315], h_ticklabels, [0, 0.1, 0.2, 0.3], yfmt="0.0", ylabel="CG methylation levels", label_size=8.0)
I1.p.xaxis[0].major_label_standoff = 1
I1.p.line(i_col_x, i_col_y, color="#f0203c", line_width=1.3)

I2 = Panel((495, 681, 503, 602), (501, 681, 507, 588), (501, 605, 509, 586.7), (0, 312, 0, 0.3), xaxis=True, yaxis=True)
style(I2, [0, 156, 312], None, [0, 0.1, 0.2, 0.3], yl=False, xbounds=True)
edges(I2, 501, 605, 507.5, 588)
I2.p.line(i_ko_x, i_ko_y, color="#3060f0", line_width=1.3)
rep_legend(I2, 609, 622, 627, [515, 528, 542, 555])

layout = column(
    row(column(T1.p, row(A.p, C1.p, C2.p, spacing=0), spacing=0), E.p, spacing=0),
    row(column(T2.p, row(BL.p, B.p, D1.p, D2.p, spacing=0), spacing=0), GL.p, G.p, spacing=0),
    row(FS.p, F1.p, F2.p, F3.p, spacing=0),
    HD.p,
    row(H1.p, H2.p, I1.p, I2.p, spacing=0),
    spacing=0,
)

open("out.html", "w").write(file_html(layout, INLINE))
